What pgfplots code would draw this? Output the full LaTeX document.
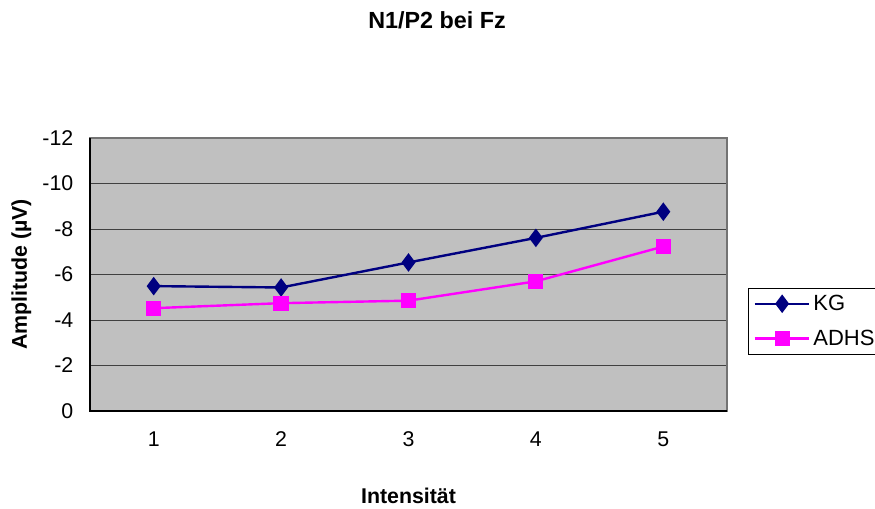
\documentclass[border=0pt]{standalone}
\usepackage{fontspec}
\setmainfont{Liberation Sans}
\usepackage{pgfplots}
\pgfplotsset{compat=1.18}
\definecolor{kgblue}{RGB}{0,0,128}
\definecolor{adhsmag}{RGB}{255,0,255}
\definecolor{plotbg}{RGB}{192,192,192}
\begin{document}
\begin{tikzpicture}[x=0.75pt,y=0.75pt]
\useasboundingbox (0,0) rectangle (875,508);
\begin{axis}[
  at={(67.5pt,72.75pt)}, anchor=south west,
  scale only axis,
  width=477.75pt, height=204.75pt,
  xmin=0.5, xmax=5.5, ymin=-12, ymax=0,
  y dir=reverse,
  xtick={1,2,3,4,5}, ytick={-12,-10,-8,-6,-4,-2,0},
  major tick length=0pt,
  ymajorgrids,
  grid style={draw=black!75, line width=0.6pt},
  axis background/.style={fill=plotbg},
  axis line style={draw=black!55, line width=0.8pt},
  /pgf/number format/assume math mode=true,
  tick label style={font=\fontsize{16}{18}\selectfont},
  yticklabel style={xshift=-9pt},
  xticklabel style={yshift=-12pt},
  xlabel={\textbf{Intensität}},
  ylabel={\textbf{Amplitude (µV)}},
  label style={font=\fontsize{16}{18}\selectfont},
  xlabel style={yshift=-24pt},
  ylabel style={yshift=1.5pt},
  clip=false,
  legend style={at={(1.033,0.45)}, anchor=north west, draw=black,
    font=\fontsize{16.5}{18}\selectfont, inner xsep=4pt, inner ysep=3pt,
    row sep=9pt},
  legend cell align=left,
  legend image code/.code={%
    \draw[#1, line width=1.8pt] (0pt,0pt) -- (41pt,0pt);
    \draw[#1, mark repeat=2, mark phase=2] plot coordinates {(0pt,0pt) (20.5pt,0pt) (41pt,0pt)};
  },
]
\addplot[color=kgblue, line width=1.8pt, mark=diamond*, mark size=5.5pt,
  mark options={solid, fill=kgblue}]
  coordinates {(1,-5.49) (2,-5.43) (3,-6.53) (4,-7.61) (5,-8.76)};
\addlegendentry{KG}
\addplot[color=adhsmag, line width=1.8pt, mark=square*, mark size=4.8pt,
  mark options={solid, fill=adhsmag}]
  coordinates {(1,-4.52) (2,-4.74) (3,-4.85) (4,-5.70) (5,-7.23)};
\addlegendentry{ADHS}
% left and bottom edges drawn darker
\draw[black, line width=0.9pt] (rel axis cs:0,1) -- (rel axis cs:0,0) -- (rel axis cs:1,0);
\end{axis}
\node[font=\bfseries\fontsize{17.5}{20}\selectfont] at (437,488) {N1/P2 bei Fz};
\end{tikzpicture}
\end{document}
